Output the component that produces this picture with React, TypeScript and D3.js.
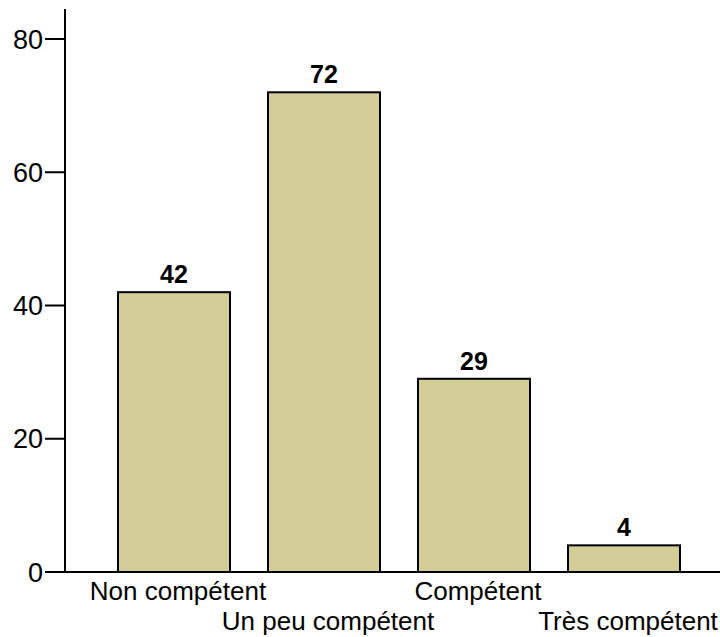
import React from "react";
import * as d3 from "d3";

const categories = ["Non compétent", "Un peu compétent", "Compétent", "Très compétent"];
const values = [42, 72, 29, 4];
const yTicks = [0, 20, 40, 60, 80];

export default function App() {
  const W = 720, H = 637;
  const axisX = 65;
  const y = d3.scaleLinear().domain([0, 80]).range([572, 39]);
  const x = d3.scaleBand().domain(categories).range([99, 699]).paddingInner(38 / 150).paddingOuter(19 / 150);
  const font = "Liberation Sans, Arial, sans-serif";
  return (
    <svg width={W} height={H} style={{ position: "absolute", left: 0, top: 0 }}>
      <rect width={W} height={H} fill="white" />
      {categories.map((c, i) => (
        <g key={c}>
          <rect x={x(c)} y={y(values[i])} width={x.bandwidth()} height={y(0) - y(values[i])}
            fill="#d2cd97" stroke="black" strokeWidth={2} />
          <text x={x(c)! + x.bandwidth() / 2} y={y(values[i]) - 9} textAnchor="middle"
            fontFamily={font} fontWeight="bold" fontSize={25}>{values[i]}</text>
          <text x={x(c)! + x.bandwidth() / 2 + 4} y={i % 2 === 0 ? 600 : 630} textAnchor="middle"
            fontFamily={font} fontSize={26}>{c}</text>
        </g>
      ))}
      <line x1={axisX} x2={axisX} y1={9} y2={573} stroke="black" strokeWidth={2} />
      <line x1={axisX - 1} x2={W} y1={572} y2={572} stroke="black" strokeWidth={2} />
      {yTicks.map(t => (
        <g key={t}>
          <line x1={45} x2={axisX} y1={y(t)} y2={y(t)} stroke="black" strokeWidth={2} />
          <text x={43} y={y(t)} dy="0.36em" textAnchor="end" fontFamily={font} fontSize={27}>{t}</text>
        </g>
      ))}
    </svg>
  );
}
